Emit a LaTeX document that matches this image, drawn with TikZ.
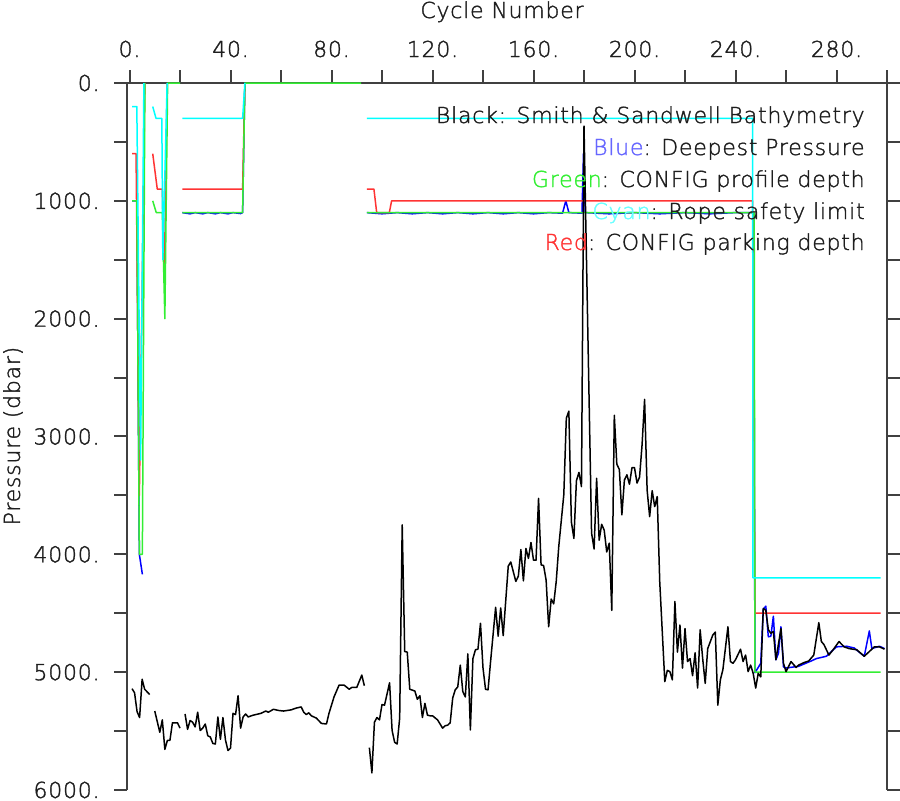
\documentclass[tikz,border=0pt]{standalone}
\usepackage{fontspec}
\usepackage{xcolor}
\usepackage{tikz}
\newfontfamily\plotfont{DejaVuSans-ExtraLight.ttf}[LetterSpace=3.5, FakeBold=1.5]
\definecolor{blue}{RGB}{0,0,255}
\definecolor{green}{RGB}{51,238,51}
\definecolor{cyan}{RGB}{0,255,255}
\definecolor{red}{RGB}{255,51,51}
\definecolor{axisgray}{RGB}{64,64,64}
\definecolor{textgray}{RGB}{30,30,30}

\begin{document}
\begin{tikzpicture}[x=0.5pt, y=-0.5pt,
    axis/.style={axisgray, line width=1pt},
    series/.style={line width=0.75pt, line join=round},
    label/.style={font=\plotfont\fontsize{11}{13}\selectfont, text=textgray, inner sep=0pt}]
    \useasboundingbox (0,0) rectangle (900,800);

    \begin{scope}[shift={(129.5,83)}, x=1.2625pt, y=-0.058915pt]
    % Frame and ticks
    \draw[axis] (-1,6000) -- (-1,0) -- (300,0) -- (300,6000);
    \foreach \p in {0,500,...,6000} {
        \draw[axis] (-1,\p) -- ++(-6.5pt,0);
        \draw[axis] (300,\p) -- ++(6.5pt,0);
    }
    \foreach \c in {0,20,...,300}
        \draw[axis] (\c,0) -- ++(0,6.5pt);
    \foreach \c in {0,40,...,280}
        \node[label, anchor=base] (xt\c) at ([yshift=13pt]\c,0) {\c.};
    \foreach \p in {0,1000,...,6000}
        \node[label, anchor=east] (yt\p) at ([xshift=-13.5pt]-1,\p) {\p.};

    % Deepest pressure
    \draw[series, blue] plot coordinates {(1,1000) (2.9,1000) (3.9,4000) (5.1,4170)};
    \draw[series, blue] plot coordinates {(20.9,1100) (24,1110) (26,1100) (29,1110) (31,1100) (34,1110)
        (36,1100) (39,1110) (41,1100) (44,1108) (44.8,1100) (45.7,0)};
    \draw[series, blue] plot coordinates {(94,1100) (100,1110) (106,1100) (112,1110) (118,1100) (124,1110)
        (130,1100) (136,1110) (142,1100) (148,1110) (154,1100) (160,1110) (166,1100) (171.5,1105)
        (172.8,1000) (174,1100) (179.2,1105) (179.8,600) (180.5,1100) (190,1110) (200,1100) (210,1110)
        (220,1100) (230,1110) (240,1100) (247.2,1100) (247.7,5005) (250,4925) (251,4465) (252,4440)
        (253,4700) (254,4695) (255,4525) (256,4895) (257,4840) (258,4615) (259,4955) (260,4965)
        (265,4950) (270,4905) (272,4885) (276,4865) (280,4785) (284,4780) (287,4795) (291,4865)
        (293,4650) (294,4800) (297,4780) (299,4800)};

    % CONFIG parking depth
    \draw[series, red] plot coordinates {(1,600) (2.6,600) (3.9,3500) (6.1,0)};
    \draw[series, red] plot coordinates {(9.2,600) (11,900) (13,900) (13.8,1700) (14.9,0)};
    \draw[series, red] plot coordinates {(20.9,900) (44.8,900) (45.7,0)};
    \draw[series, red] plot coordinates {(94,900) (96.8,900) (97.9,1100) (102.9,1100) (103.8,1000)
        (246.8,1000) (247.7,4500) (297.5,4500)};

    % CONFIG profile depth
    \draw[series, green] plot coordinates {(1,1000) (2.9,1000) (3.9,4000) (5.1,4000) (6.1,0)};
    \draw[series, green] plot coordinates {(9.2,1000) (10.6,1100) (13,1100) (14,2000) (15.1,0) (20,0)};
    \draw[series, green] plot coordinates {(20.9,1100) (44.8,1100) (45.7,0) (91.7,0)};
    \draw[series, green] plot coordinates {(94,1100) (247.4,1100) (247.7,5000) (297.5,5000)};

    % Rope safety limit
    \draw[series, cyan] plot coordinates {(1,200) (2.9,200) (4.4,3200) (5.7,0)};
    \draw[series, cyan] plot coordinates {(9.2,200) (10.5,300) (12.8,300) (13.2,1500) (14.9,0)};
    \draw[series, cyan] plot coordinates {(20.9,300) (44.8,300) (45.7,0)};
    \draw[series, cyan] plot coordinates {(94,300) (246.8,300) (246.9,4200) (297.5,4200)};

    % Smith & Sandwell bathymetry
    \draw[series, black] plot coordinates {(1,5140) (2,5175) (3,5335) (4,5385) (5,5060) (6,5145) (8,5190)};
    \draw[series, black] plot coordinates {(10,5330) (12,5510) (13,5405) (14,5655) (15,5580) (16,5580)
        (17,5430) (19,5430) (20,5475)};
    \draw[series, black] plot coordinates {(22,5355) (23,5485) (24,5410) (25,5425) (26,5465) (27,5340)
        (28,5495) (29,5475) (30,5440) (31,5540) (32,5550) (33,5605) (34,5610) (35,5380) (36,5570)
        (37,5385) (38,5575) (39,5665) (40,5645) (41,5350) (42,5360) (43,5200) (44,5475) (45,5380)
        (46,5355) (47,5380) (49,5365) (52,5350) (54,5330) (55,5340) (57,5315) (59,5325) (61,5330)
        (64,5320) (66,5305) (68,5295) (69,5340) (70,5360) (71,5345) (72,5370) (74,5390) (76,5435)
        (78,5440) (79,5350) (81,5210) (83,5110) (85,5110) (87,5145) (88,5130) (90,5130) (92,5025)
        (93,5115)};
    \draw[series, black] plot coordinates {(95,5640) (96,5855) (97,5425) (98,5385) (99,5405) (100,5275)
        (101,5280) (103,5090) (104,5495) (105,5595) (106,5610) (107,5390) (108,3750) (109,4825)
        (110,4830) (111,5145) (113,5160) (114,5230) (115,5200) (116,5385) (117,5265) (118,5365)
        (119,5370) (120,5370) (122,5405) (124,5475) (125,5455) (126,5450) (127,5430) (128,5220)
        (129,5150) (130,5125) (131,4940) (132,5165) (133,5210) (134,4845) (135,5490) (136,4885)
        (137,4810) (138,4805) (139,4585) (140,4965) (141,5145) (142,5150) (143,4910) (145,4450)
        (146,4695) (147,4455) (148,4690) (150,4100) (151,4065) (153,4230) (154,4185) (155,3960)
        (156,4225) (157,3950) (158,4035) (159,3900) (160,4050) (161,4050) (162,3525) (163,4090)
        (164,4095) (165,4220) (166,4615) (167,4380) (168,4420) (169,4230) (170,3935) (172,3495)
        (173,2845) (174,2785) (175,3725) (176,3865) (177,3375) (178,3305) (179,3425) (180,365)
        (183,3820) (184,3955) (185,3355) (186,3880) (187,3745) (188,3795) (189,3980) (190,3905)
        (191,4475) (192,2820) (193,3235) (194,3280) (195,3665) (196,3370) (197,3325) (198,3405)
        (199,3265) (200,3265) (201,3395) (202,3345) (203,3070) (204,2685) (205,3455) (206,3680)
        (207,3460) (208,3595) (209,3510) (210,4235) (212,5080) (213,4985) (214,4995) (215,5065)
        (216,4400) (217,4830) (218,4600) (219,4965) (220,4630) (221,4910) (222,4885) (223,5030)
        (224,4835) (225,5135) (226,4640) (227,4885) (228,5095) (229,4800) (231,4685) (232,4660)
        (233,5280) (234,5065) (235,4980) (237,4615) (238,4910) (239,4925) (240,4895) (242,4805)
        (243,4910) (244,4855) (245,4995) (246,4940) (247,5010) (248,5135) (249,5010) (250,5040)
        (251,4460) (252,4475) (253,4640) (254,4670) (255,4655) (256,4895) (258,4630) (259,4925)
        (260,4995) (262,4910) (264,4960) (265,4940) (267,4920) (269,4905) (271,4855) (273,4580)
        (274,4740) (275,4765) (277,4855) (279,4800) (281,4740) (283,4785) (285,4800) (288,4810)
        (291,4865) (293,4825) (295,4785) (297,4785) (299,4805)};
    \end{scope}

    % Axis titles and legend
    \node[label, anchor=base] (xtitle) at (502,18) {Cycle Number};
    \node[label, rotate=90] (ytitle) at (13,436) {Pressure (dbar)};
    \node[label, anchor=base east] (lgblack) at (865,123) {Black: Smith \& Sandwell Bathymetry};
    \node[label, anchor=base east] (lgblue) at (865,155) {\textcolor{blue!60}{Blue}: Deepest Pressure};
    \node[label, anchor=base east] (lggreen) at (865,187) {\textcolor{green}{Green}: CONFIG profile depth};
    \node[label, anchor=base east] (lgcyan) at (865,219) {\textcolor{cyan!60}{Cyan}: Rope safety limit};
    \node[label, anchor=base east] (lgred) at (865,250) {\textcolor{red}{Red}: CONFIG parking depth};
\end{tikzpicture}
\end{document}
